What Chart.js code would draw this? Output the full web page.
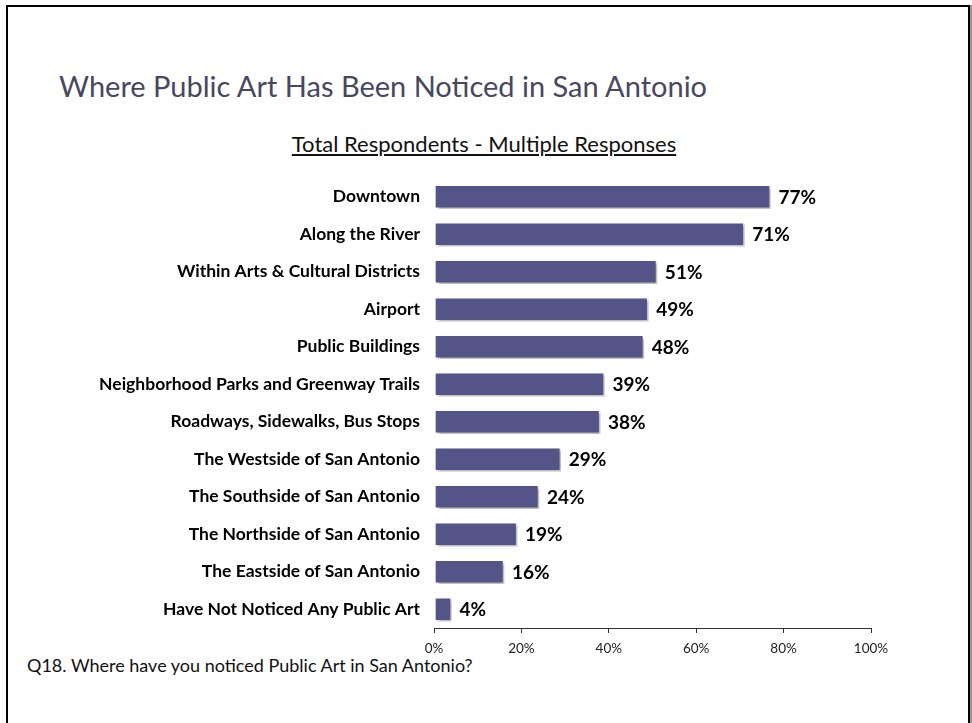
<!DOCTYPE html>
<html lang="en">
<head>
  <meta charset="UTF-8">
  <title>Where Public Art Has Been Noticed in San Antonio</title>
  <script src="https://cdn.jsdelivr.net/npm/chart.js"></script>
  <style>
    body { margin: 0; background: #fff; font-family: Lato, "Open Sans", sans-serif; }
    #page { position: relative; width: 972px; height: 723px; overflow: hidden; }
    #frame { position: absolute; left: 6px; top: 5px; width: 960px; height: 740px; border: 2px solid #000; box-shadow: 2px 0 0 #999; }
    #title { position: absolute; left: 59px; top: 68px; font-size: 29px; color: #474760; white-space: nowrap; }
    #subtitle { position: absolute; left: 0; width: 968px; top: 130px; text-align: center; font-size: 22px; color: #111; text-decoration: underline; }
    #note { position: absolute; left: 27px; top: 654px; font-size: 18px; color: #111; }
    #chartBox { position: absolute; left: 0; top: 0; width: 972px; height: 723px; }
  </style>
</head>
<body>
<div id="page">
  <div id="frame"></div>
  <div id="title">Where Public Art Has Been Noticed in San Antonio</div>
  <div id="subtitle">Total Respondents - Multiple Responses</div>
  <div id="note">Q18. Where have you noticed Public Art in San Antonio?</div>
  <div id="chartBox"><canvas id="artChart"></canvas></div>
</div>

<script>
  // places where respondents noticed public art
  const places = [
    'Downtown',
    'Along the River',
    'Within Arts & Cultural Districts',
    'Airport',
    'Public Buildings',
    'Neighborhood Parks and Greenway Trails',
    'Roadways, Sidewalks, Bus Stops',
    'The Westside of San Antonio',
    'The Southside of San Antonio',
    'The Northside of San Antonio',
    'The Eastside of San Antonio',
    'Have Not Noticed Any Public Art'
  ];
  // percent of respondents
  const percents = [77, 71, 51, 49, 48, 39, 38, 29, 24, 19, 16, 4];
  // x axis ticks
  const tickValues = [0, 20, 40, 60, 80, 100];

  // shadow under the bars
  const barShadow = {
    id: 'barShadow',
    beforeDatasetsDraw(chart) {
      const ctx = chart.ctx;
      ctx.save();
      ctx.shadowColor = 'rgba(0,0,0,0.35)';
      ctx.shadowBlur = 3;
      ctx.shadowOffsetX = 2;
      ctx.shadowOffsetY = 2;
    },
    afterDatasetsDraw(chart) {
      chart.ctx.restore();
    }
  };

  // value labels at the end of each bar
  const valueLabels = {
    id: 'valueLabels',
    afterDatasetsDraw(chart) {
      const ctx = chart.ctx;
      const meta = chart.getDatasetMeta(0);
      ctx.save();
      ctx.font = 'bold 19px Lato, "Open Sans", sans-serif';
      ctx.fillStyle = '#000';
      ctx.textAlign = 'left';
      ctx.textBaseline = 'middle';
      meta.data.forEach((bar, i) => {
        ctx.fillText(percents[i] + '%', bar.x + 8, bar.y + 1);
      });
      ctx.restore();
    }
  };

  const ctx = document.getElementById('artChart').getContext('2d');
  new Chart(ctx, {
    type: 'bar',
    data: {
      labels: places,
      datasets: [{
        data: percents,
        backgroundColor: '#545489',
        borderColor: '#ffffff',
        borderWidth: 1.5,
        borderSkipped: false,
        barThickness: 24
      }]
    },
    options: {
      indexAxis: 'y',
      responsive: true,
      maintainAspectRatio: false,
      animation: false,
      layout: { padding: { top: 178, right: 101, bottom: 55, left: 0 } },
      plugins: {
        legend: { display: false },
        tooltip: { enabled: false }
      },
      scales: {
        x: {
          min: 0,
          max: 100,
          afterBuildTicks(scale) {
            scale.ticks = tickValues.map(v => ({ value: v }));
          },
          afterFit(scale) { scale.height = 40; },
          border: { display: true, color: '#333', width: 1 },
          grid: { drawOnChartArea: false, drawTicks: true, tickLength: 5, color: '#333' },
          ticks: {
            color: '#222',
            font: { family: 'Lato, "Open Sans", sans-serif', size: 13.5 },
            padding: 8,
            callback: v => v + '%'
          }
        },
        y: {
          afterFit(scale) { scale.width = 434; },
          border: { display: false },
          grid: { display: false, drawTicks: false },
          ticks: {
            color: '#000',
            padding: 14,
            font: { family: 'Lato, "Open Sans", sans-serif', size: 17.5, weight: 'bold' }
          }
        }
      }
    },
    plugins: [barShadow, valueLabels]
  });
</script>
</body>
</html>
